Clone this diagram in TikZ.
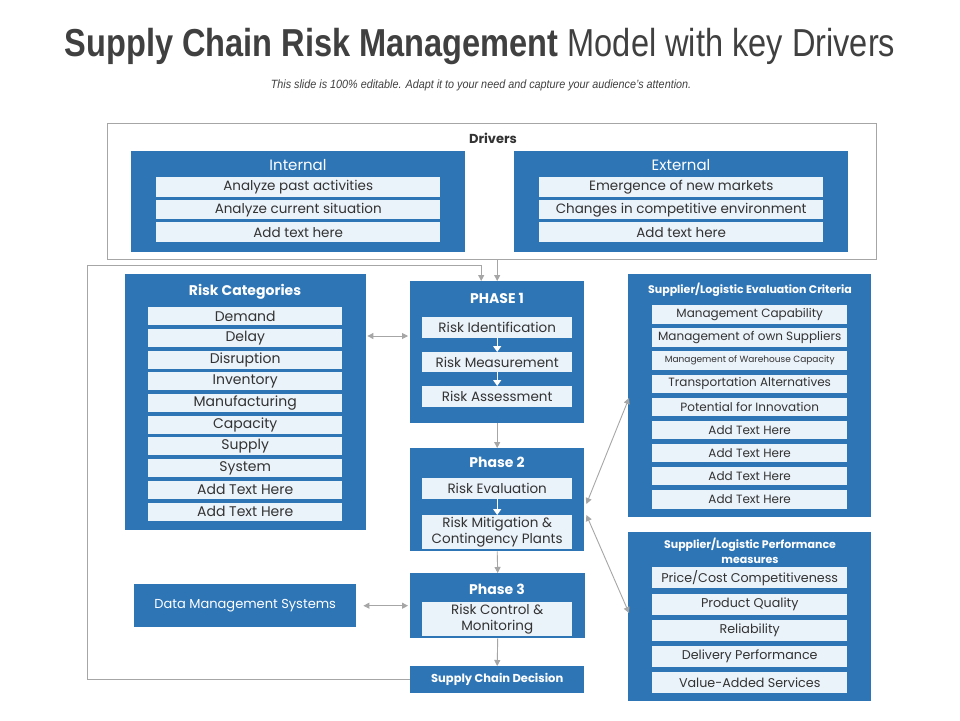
\documentclass[tikz,border=0pt]{standalone}
\usepackage{fontspec}
\setmainfont{Poppins}
\newfontfamily\titlefont[FakeStretch=0.835]{Liberation Sans}
\newfontfamily\subfont[FakeStretch=0.9]{Liberation Sans}
\usetikzlibrary{arrows.meta,calc}
\definecolor{bluebox}{HTML}{2E75B6}
\definecolor{rowc}{HTML}{EAF2FA}
\definecolor{txt}{HTML}{333333}
\definecolor{arr}{HTML}{A6A6A6}
\definecolor{ttl}{HTML}{404040}
\begin{document}
\begin{tikzpicture}[x=1pt,y=-1pt,
  bbox/.style={fill=bluebox, inner sep=0pt, anchor=north west},
  rowbox/.style={fill=rowc, text=txt, inner sep=0pt, anchor=north west, align=center, font=\fontsize{13}{14}\selectfont},
  hdr/.style={text=white, inner sep=0pt, font=\fontsize{14}{16}\selectfont\bfseries},
  garrow/.style={draw=arr, line width=0.9pt, -{Triangle[length=6pt,width=6pt]}},
  gdarrow/.style={draw=arr, line width=0.9pt, {Triangle[length=6pt,width=6pt]}-{Triangle[length=6pt,width=6pt]}},
  warrow/.style={draw=white, line width=1.4pt, -{Triangle[length=6pt,width=8pt]}},
]
\useasboundingbox (0,0) rectangle (960,720);
\fill[white] (0,0) rectangle (960,720);

% title
\node[font=\titlefont\fontsize{39}{44}\selectfont, text=ttl, inner sep=0pt] (title) at (480,47) {{\bfseries Supply Chain Risk Management} Model with key Drivers};
\node[font=\subfont\itshape\fontsize{12}{14}\selectfont, text=ttl, inner sep=0pt] (sub) at (481,85) {This slide is 100\% editable. Adapt it to your need and capture your audience’s attention.};

% drivers
\node[draw=arr, line width=0.8pt, inner sep=0pt, anchor=north west, minimum width=769pt, minimum height=136pt] (drivers) at (107,123) {};
\node[text=txt, inner sep=0pt, font=\fontsize{13}{15}\selectfont\bfseries] (drvlbl) at (493,138) {Drivers};

\node[bbox, minimum width=334pt, minimum height=101pt] (int) at (131,151) {};
\node[text=white, inner sep=0pt, font=\fontsize{15}{17}\selectfont] (intt) at (298,165) {Internal};
\node[rowbox, minimum width=284pt, minimum height=20pt, font=\fontsize{13.5}{14}\selectfont] (i1) at (156,177) {Analyze past activities};
\node[rowbox, minimum width=284pt, minimum height=19pt, font=\fontsize{13.5}{14}\selectfont] (i2) at (156,200) {Analyze current situation};
\node[rowbox, minimum width=284pt, minimum height=20pt, font=\fontsize{13.5}{14}\selectfont] (i3) at (156,222) {Add text here};

\node[bbox, minimum width=334pt, minimum height=101pt] (ext) at (514,151) {};
\node[text=white, inner sep=0pt, font=\fontsize{15}{17}\selectfont] (extt) at (681,165) {External};
\node[rowbox, minimum width=284pt, minimum height=20pt, font=\fontsize{13.5}{14}\selectfont] (e1) at (539,177) {Emergence of new markets};
\node[rowbox, minimum width=284pt, minimum height=19pt, font=\fontsize{13.5}{14}\selectfont] (e2) at (539,200) {Changes in competitive environment};
\node[rowbox, minimum width=284pt, minimum height=20pt, font=\fontsize{13.5}{14}\selectfont] (e3) at (539,222) {Add text here};

% risk categories
\node[bbox, minimum width=241pt, minimum height=256pt] (rc) at (125,274) {};
\node[hdr] (rct) at (245,292) {Risk Categories};
\foreach \t [count=\i from 0] in {Demand,Delay,Disruption,Inventory,Manufacturing,Capacity,Supply,System,Add Text Here,Add Text Here}{
  \node[rowbox, minimum width=194pt, minimum height=18pt, font=\fontsize{14}{14}\selectfont] (rc\i) at (148,{307+21.7*\i}) {\t};
}

% phase 1
\node[bbox, minimum width=174pt, minimum height=142pt] (p1) at (410,281) {};
\node[hdr] (p1t) at (497,298) {PHASE 1};
\node[rowbox, minimum width=150pt, minimum height=21pt, font=\fontsize{13.5}{14}\selectfont] (p1a) at (422,317) {Risk Identification};
\node[rowbox, minimum width=150pt, minimum height=20pt, font=\fontsize{13.5}{14}\selectfont] (p1b) at (422,352) {Risk Measurement};
\node[rowbox, minimum width=150pt, minimum height=21pt, font=\fontsize{13.5}{14}\selectfont] (p1c) at (422,386) {Risk Assessment};
\draw[warrow] (p1a.south) -- (p1b.north);
\draw[warrow] (p1b.south) -- (p1c.north);

% phase 2
\node[bbox, minimum width=174pt, minimum height=103pt] (p2) at (410,448) {};
\node[hdr] (p2t) at (497,462) {Phase 2};
\node[rowbox, minimum width=150pt, minimum height=21pt, font=\fontsize{13.5}{14}\selectfont] (p2a) at (422,478) {Risk Evaluation};
\node[rowbox, minimum width=150pt, minimum height=34pt, font=\fontsize{13.5}{16}\selectfont] (p2b) at (422,515) {Risk Mitigation \&\\Contingency Plants};
\draw[warrow] (p2a.south) -- (p2b.north);

% phase 3
\node[bbox, minimum width=175pt, minimum height=65pt] (p3) at (410,573) {};
\node[hdr] (p3t) at (497,589) {Phase 3};
\node[rowbox, minimum width=150pt, minimum height=34pt, font=\fontsize{13.5}{16}\selectfont] (p3a) at (422,602) {Risk Control \&\\Monitoring};

% decision
\node[bbox, minimum width=174pt, minimum height=27pt, text=white, font=\fontsize{11.5}{13}\selectfont\bfseries] (dec) at (410,666) {Supply Chain Decision};

% data management
\node[bbox, minimum width=222pt, minimum height=43pt, text=white, font=\fontsize{13}{15}\selectfont] (dms) at (134,584) {Data Management Systems};

% evaluation criteria
\node[bbox, minimum width=243pt, minimum height=243pt] (ev) at (628,274) {};
\node[hdr, font=\fontsize{11}{13}\selectfont\bfseries] (evt) at (750,290) {Supplier/Logistic Evaluation Criteria};
\foreach \t/\f [count=\i from 0] in {Management Capability/12,Management of own Suppliers/12,Management of Warehouse Capacity/9,Transportation Alternatives/12,Potential for Innovation/12,Add Text Here/12,Add Text Here/12,Add Text Here/12,Add Text Here/12}{
  \node[rowbox, minimum width=195pt, minimum height=18.5pt, font=\fontsize{\f}{14}\selectfont] (ev\i) at (652,{305+23.1*\i}) {\t};
}

% performance measures
\node[bbox, minimum width=243pt, minimum height=169pt] (pm) at (628,532) {};
\node[hdr, font=\fontsize{11}{15}\selectfont\bfseries, align=center] (pmt) at (750,550.5) {Supplier/Logistic Performance\\measures};
\foreach \t [count=\i from 0] in {Price/Cost Competitiveness,Product Quality,Reliability,Delivery Performance,Value-Added Services}{
  \node[rowbox, minimum width=195pt, minimum height=21pt, font=\fontsize{12.7}{14}\selectfont] (pm\i) at (652,{567+26.3*\i}) {\t};
}

% connectors
\draw[garrow] (p1.north |- drivers.south) -- (p1.north);
\coordinate (loopc) at (87,265);
\draw[garrow] (dec.west) -| (loopc) -| ($(p1.north)+(-16,0)$);
\draw[gdarrow, shorten <=1pt, shorten >=2pt] ($(rc.north east)+(0,62)$) -- ($(p1.north west)+(0,55)$);
\draw[gdarrow, shorten <=7pt, shorten >=2pt] (dms.east) -- (p3.west |- dms.east);
\draw[garrow] (p1.south) -- (p2.north);
\draw[garrow] (p2.south) -- (p3.north);
\draw[garrow] (p3.south) -- (dec.north);
\draw[gdarrow] ($(p2.north east)+(2,56)$) -- ($(ev.north west)+(1,124)$);
\draw[gdarrow] ($(p2.north east)+(2,67)$) -- ($(pm.north west)+(1,81)$);
\end{tikzpicture}
\end{document}
